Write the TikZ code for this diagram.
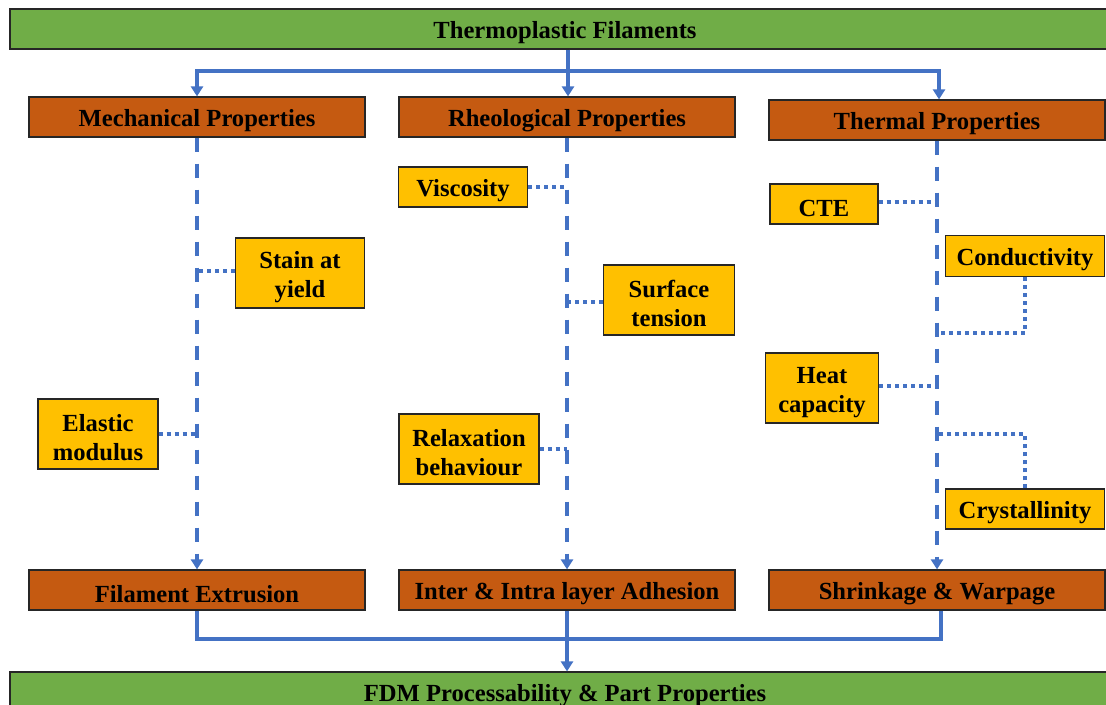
\documentclass[tikz,border=0pt]{standalone}
\usepackage{fontspec}
\setmainfont{Liberation Serif}
\usepackage{tikz}
\usepackage{xcolor}
\usetikzlibrary{arrows.meta}
\definecolor{barfill}{HTML}{70AD47}
\definecolor{propfill}{HTML}{C55A11}
\definecolor{factfill}{HTML}{FFC000}
\definecolor{edge}{HTML}{262626}
\definecolor{wire}{HTML}{4472C4}
\newcommand{\topgap}{\rule{0pt}{12.5pt}}
\tikzset{
  boxbase/.style={draw=edge, line width=0.6pt, align=center, inner sep=0pt,
                  font=\fontsize{12.3}{14.5}\selectfont\bfseries},
  mainbar/.style={boxbase, fill=barfill, minimum width=555pt, minimum height=20pt},
  propbox/.style={boxbase, fill=propfill, minimum width=168pt, minimum height=20pt},
  factbox/.style={boxbase, fill=factfill, minimum height=20pt},
  flow/.style={-{Triangle[length=5pt,width=6pt]}, line width=1.6pt, draw=wire},
  link/.style={line width=1.6pt, draw=wire},
  trunk/.style={-{Triangle[length=5pt,width=6pt]}, line width=1.6pt, draw=wire,
                dash pattern=on 7pt off 6pt},
  tie/.style={line width=1.6pt, draw=wire, dash pattern=on 2pt off 2pt}
}

\begin{document}
\begin{tikzpicture}[x=0.5pt,y=-0.5pt]
  \useasboundingbox (0,0) rectangle (1106,705);
  % top and bottom bars
  \node[mainbar] (top) at (565,29) {\topgap Thermoplastic Filaments};
  \node[mainbar] (fdm) at (565,692) {\topgap FDM Processability \& Part Properties};

  % property headers
  \node[propbox] (mech)  at (197,117) {\topgap Mechanical Properties};
  \node[propbox] (rheo)  at (567,117) {\topgap Rheological Properties};
  \node[propbox] (therm) at (937,120) {\topgap Thermal Properties};

  % outcomes
  \node[propbox] (ext) at (197,590) {\topgap Filament Extrusion};
  \node[propbox] (adh) at (567,590) {\topgap Inter \& Intra layer Adhesion};
  \node[propbox] (shr) at (937,590) {\topgap Shrinkage \& Warpage};

  % factors
  \node[factbox, minimum width=64.5pt, minimum height=35pt] (stain) at (300,273) {\topgap Stain at\\yield};
  \node[factbox, minimum width=60pt, minimum height=35pt] (elastic) at (98,434) {\topgap Elastic\\modulus};
  \node[factbox, minimum width=64.5pt] (visc) at (463,187) {\topgap Viscosity};
  \node[factbox, minimum width=65.5pt, minimum height=35pt] (surf) at (669,300) {\topgap Surface\\tension};
  \node[factbox, minimum width=70pt, minimum height=35pt] (relax) at (469,449) {\topgap Relaxation\\behaviour};
  \node[factbox, minimum width=54pt] (cte) at (824,204) {\topgap CTE};
  \node[factbox, minimum width=79.5pt, minimum height=20.5pt] (cond) at (1025,256) {\topgap Conductivity};
  \node[factbox, minimum width=56.5pt, minimum height=35pt] (heat) at (822,388) {\topgap Heat\\capacity};
  \node[factbox, minimum width=79.5pt] (crys) at (1025,509) {\topgap Crystallinity};

  % split from the top bar
  \coordinate (split) at (568,71);
  \draw[flow] (top.south -| split) -- (split |- rheo.north);
  \draw[flow] (split) -| (mech.north);
  \draw[flow] (split) -| ([xshift=1pt]therm.north);

  % dashed trunks
  \draw[trunk] (mech.south) -- (ext.north);
  \draw[trunk] (rheo.south) -- (adh.north);
  \draw[trunk] (therm.south) -- (shr.north);

  % dotted ties
  \draw[tie] ([yshift=1pt]stain.west) -- ([yshift=1pt]stain.west -| mech.south);
  \draw[tie] (elastic.east) -- (elastic.east -| mech.south);
  \draw[tie] (visc.east) -- (visc.east -| rheo.south);
  \draw[tie] ([yshift=-1pt]surf.west) -- ([yshift=-1pt]surf.west -| rheo.south);
  \draw[tie] (relax.east) -- (relax.east -| rheo.south);
  \draw[tie] ([yshift=1pt]cte.east) -- ([yshift=1pt]cte.east -| therm.south);
  \draw[tie] ([yshift=1pt]heat.east) -- ([yshift=1pt]heat.east -| therm.south);
  \coordinate (condjoin) at (937,333);
  \coordinate (crysjoin) at (937,434);
  \draw[tie] (cond.south) |- (condjoin);
  \draw[tie] (crys.north) |- (crysjoin);

  % merge into the bottom bar
  \coordinate (merge) at (568,639);
  \draw[link] (ext.south) |- (merge) -| ([xshift=2pt]shr.south);
  \draw[flow] (adh.south) -- (adh.south |- fdm.north);
\end{tikzpicture}
\end{document}
